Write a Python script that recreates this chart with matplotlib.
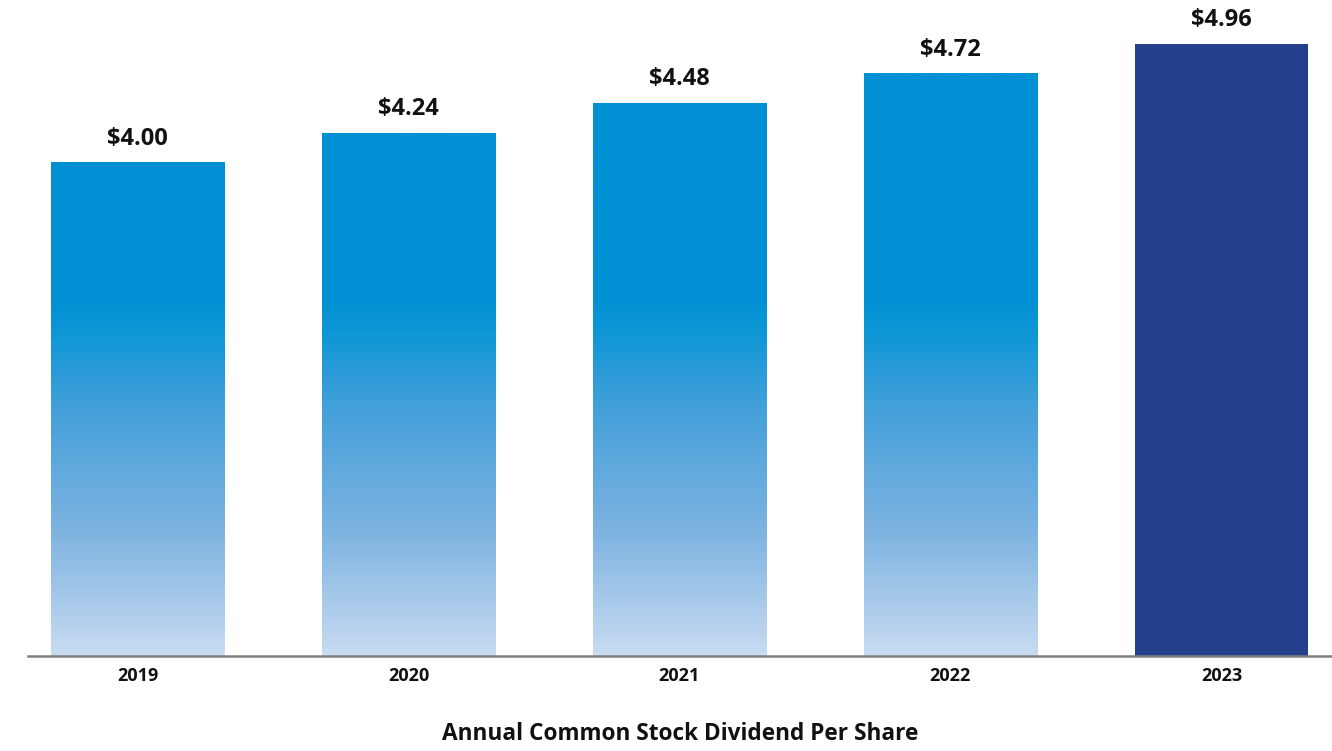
import numpy as np
import matplotlib
matplotlib.use("Agg")
import matplotlib.pyplot as plt
from matplotlib.colors import LinearSegmentedColormap

years = ["2019", "2020", "2021", "2022", "2023"]
dividends = [4.00, 4.24, 4.48, 4.72, 4.96]
labels = ["$4.00", "$4.24", "$4.48", "$4.72", "$4.96"]

plt.rcParams["font.family"] = ["Open Sans", "DejaVu Sans"]

fig = plt.figure(figsize=(13.32, 7.51), dpi=100)
ax = fig.add_axes([28 / 1332, 95 / 751, 1 - 28 / 1332, 642 / 751])

x = np.arange(len(years))
bars = ax.bar(x, dividends, width=0.64, color="none", edgecolor="none", zorder=2)

# vertical gradient in data units: light at 0, solid blue from ~2.9 upwards
grad = LinearSegmentedColormap.from_list(
    "div", [(0.0, "#c8ddf2"), (0.05, "#bdd5ef"), (0.35, "#7db3e0"),
            (0.69, "#44a0da"), (0.9, "#0f97d6"), (1.0, "#0090d3")]
)
top_grad = 2.9

for i, (b, v) in enumerate(zip(bars, dividends)):
    if i == len(years) - 1:
        b.set_facecolor("#243f8c")
        continue
    x0 = b.get_x()
    w = b.get_width()
    ys = np.linspace(0, v, 400)
    img = np.clip(ys / top_grad, 0, 1).reshape(-1, 1)
    im = ax.imshow(img, cmap=grad, vmin=0, vmax=1, origin="lower", aspect="auto",
                   extent=(x0, x0 + w, 0, v), zorder=1, interpolation="bilinear")
    im.set_clip_path(b)

for xi, v, lab in zip(x, dividends, labels):
    ax.text(xi, v + 0.19, lab, ha="center", va="center", fontsize=17,
            fontweight="bold", color="#111111")

ax.set_xlim(-0.404, 4.408)
ax.set_ylim(0, 5.2)
ax.set_xticks(x)
ax.set_xticklabels(years, fontsize=13, fontweight="bold", color="#111111")
ax.tick_params(axis="x", length=0, pad=8)
ax.set_yticks([])
for s in ["top", "right", "left"]:
    ax.spines[s].set_visible(False)
ax.spines["bottom"].set_color("#808080")
ax.spines["bottom"].set_linewidth(1.8)
ax.spines["bottom"].set_zorder(3)

fig.text(680 / 1332, 1 - 734 / 751, "Annual Common Stock Dividend Per Share",
         ha="center", va="center", fontsize=16.3, fontweight="bold", color="#111111")

fig.savefig("out.png", dpi=100)
